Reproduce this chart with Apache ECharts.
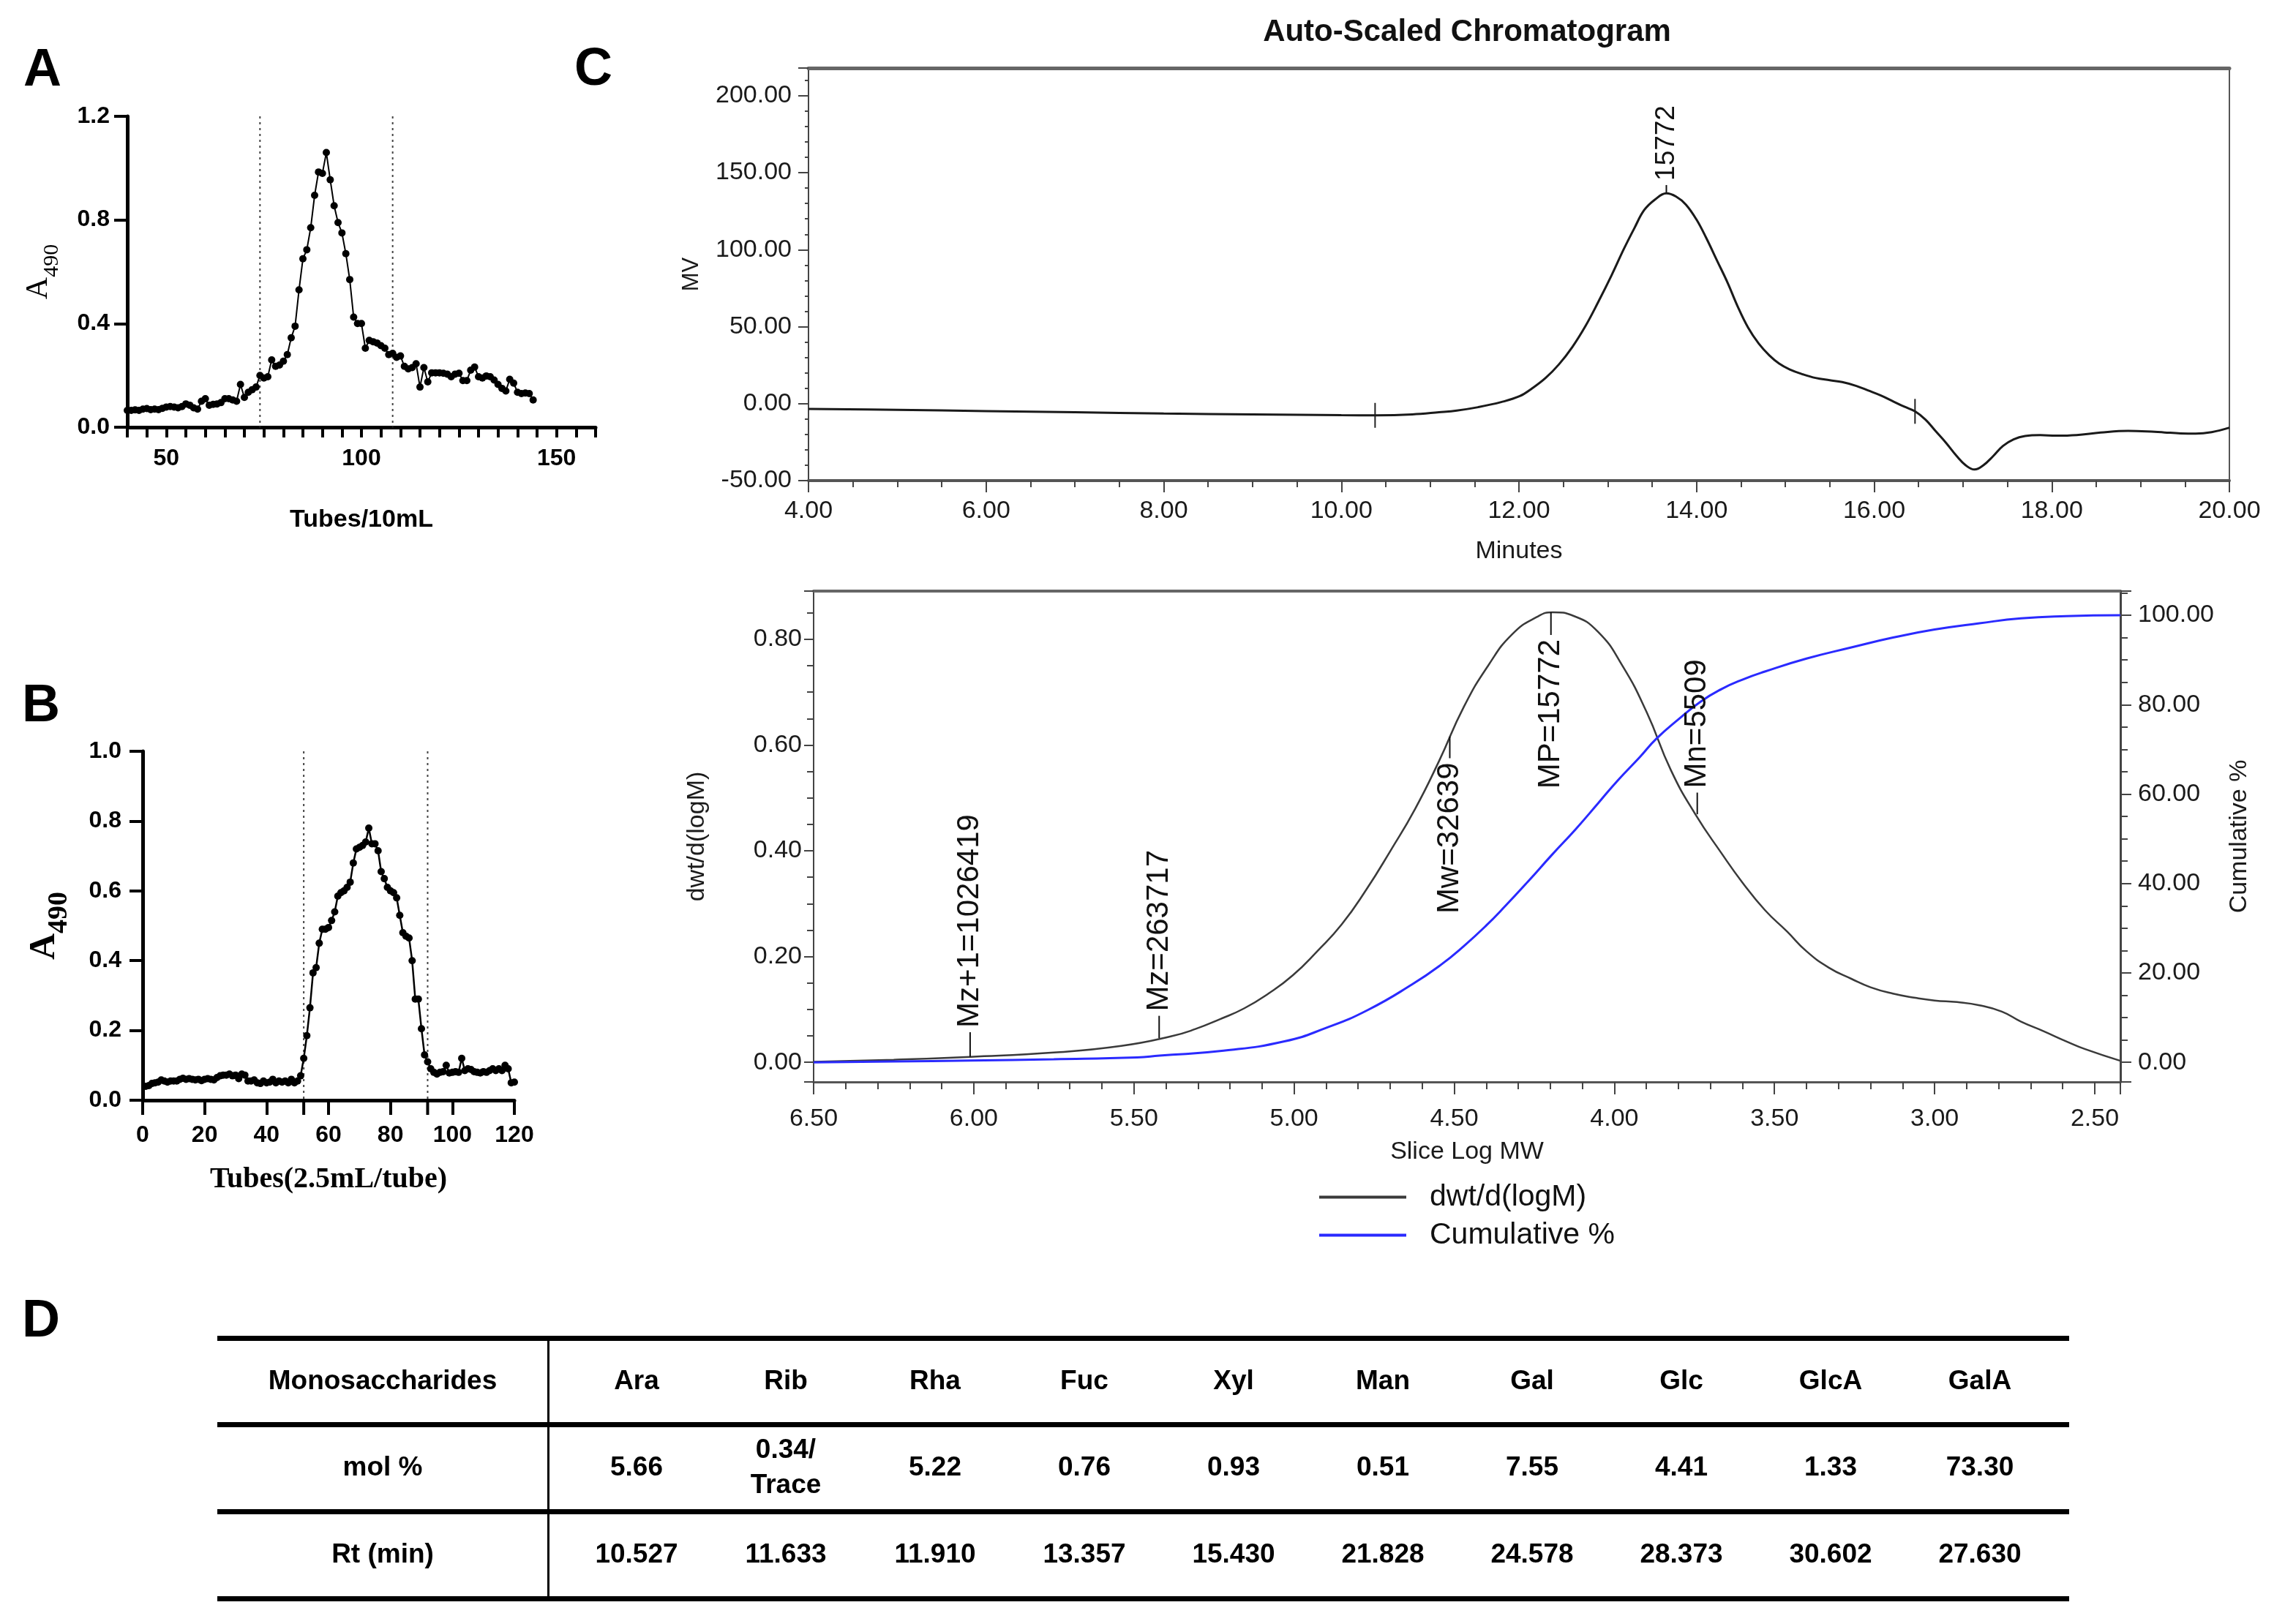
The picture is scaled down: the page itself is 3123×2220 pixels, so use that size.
<!DOCTYPE html>
<html><head><meta charset="utf-8">
<script src="https://cdn.jsdelivr.net/npm/echarts@6/dist/echarts.min.js"></script>
<style>html,body{margin:0;padding:0;background:#fff}#c{width:3123px;height:2220px}</style>
</head><body><div id="c"></div>
<script>
// ---------------- DATA ----------------
// Panel A: tubes (10 mL) starting at tube 40
const tubeStartA = 40;
const valuesA = [0.065,0.065,0.067,0.065,0.070,0.072,0.068,0.070,0.068,0.073,
  0.078,0.080,0.078,0.075,0.080,0.090,0.085,0.075,0.070,0.100,
  0.110,0.085,0.088,0.090,0.095,0.110,0.110,0.105,0.100,0.165,
  0.115,0.135,0.145,0.155,0.200,0.190,0.195,0.260,0.235,0.240,
  0.255,0.280,0.345,0.390,0.530,0.650,0.685,0.770,0.895,0.985,
  0.980,1.060,0.955,0.855,0.790,0.750,0.670,0.570,0.425,0.400,
  0.400,0.305,0.335,0.330,0.325,0.315,0.305,0.280,0.285,0.270,
  0.275,0.235,0.225,0.230,0.245,0.155,0.230,0.175,0.210,0.210,
  0.210,0.208,0.205,0.195,0.205,0.208,0.180,0.180,0.220,0.232,
  0.195,0.190,0.198,0.195,0.182,0.165,0.150,0.140,0.185,0.170,
  0.135,0.130,0.132,0.130,0.105];
const cutA = [74, 108];

// Panel B: tubes (2.5 mL) 1..120
const valuesB = [0.040,0.042,0.048,0.050,0.052,0.058,0.055,0.052,0.055,0.055,
  0.055,0.060,0.063,0.060,0.062,0.060,0.058,0.060,0.056,0.060,
  0.062,0.060,0.058,0.065,0.070,0.072,0.072,0.075,0.070,0.072,
  0.062,0.075,0.072,0.055,0.055,0.058,0.050,0.048,0.055,0.050,
  0.052,0.060,0.050,0.055,0.052,0.055,0.050,0.060,0.050,0.055,
  0.070,0.120,0.185,0.265,0.365,0.380,0.450,0.490,0.490,0.495,
  0.515,0.540,0.585,0.595,0.600,0.610,0.625,0.680,0.720,0.725,
  0.730,0.740,0.780,0.735,0.735,0.715,0.655,0.635,0.610,0.600,
  0.595,0.580,0.530,0.480,0.470,0.465,0.400,0.290,0.290,0.205,
  0.130,0.110,0.090,0.080,0.075,0.080,0.082,0.100,0.078,0.080,
  0.082,0.080,0.120,0.085,0.090,0.088,0.082,0.080,0.078,0.082,
  0.080,0.085,0.090,0.085,0.090,0.085,0.100,0.090,0.050,0.052];
const cutB = [52, 92];

// Panel C (top): chromatogram
const minutesC = [4.0,5.0,6.0,7.0,8.0,9.0,10.0,10.4,10.8,11.1,11.3,11.54,11.8,12.01,12.15,12.30,12.45,12.60,12.75,12.89,
  13.04,13.18,13.30,13.41,13.53,13.66,13.77,13.88,14.00,14.11,14.23,14.35,14.46,14.58,14.70,14.82,14.93,15.05,15.20,15.34,
  15.50,15.64,15.80,15.93,16.08,16.22,16.34,16.46,16.58,16.69,16.81,16.93,17.03,17.13,17.23,17.34,17.45,17.57,17.70,17.87,
  18.05,18.28,18.55,18.86,19.07,19.27,19.45,19.62,19.80,20.00];
const mvC = [-3.4,-4.0,-4.8,-5.6,-6.4,-7.0,-7.5,-7.6,-7.0,-5.6,-4.5,-2.3,1.0,4.9,10,16.7,25.5,36.7,50.5,65.7,
  83,100.3,114,125.7,132.5,136.6,134.5,129.3,119.5,107.5,93,78.5,63.5,49.4,39,31.3,26,22.2,19,16.7,
  15.2,14.0,11.5,8.6,5.2,1.3,-2,-5.0,-10.5,-17.7,-25.5,-34.1,-40,-42.8,-40,-34.1,-27.5,-23.2,-21,-20.4,
  -20.8,-20.4,-18.8,-17.7,-18.0,-18.7,-19.3,-19.5,-18.5,-15.6];
const sliceMarksX = [10.38, 16.46];
const sliceMarksY = [-7.6, -5.0];
const peakLabel = ['15772'];
const peakX = [13.66], peakY = [136.6], peakTickEnd = [142];

// Panel C (bottom): MW distribution
const logDwt = [6.50,6.25,6.01,5.75,5.54,5.385,5.308,5.232,5.156,5.08,5.004,4.927,4.851,4.775,4.699,4.623,4.547,4.47,4.394,
  4.318,4.242,4.192,4.127,4.051,3.975,3.899,3.823,3.747,3.665,3.60,3.53,3.46,3.40,3.33,3.26,3.20,3.13,3.06,3.00,
  2.93,2.86,2.79,2.73,2.66,2.59,2.53,2.42];
const dwt = [0.001,0.005,0.0105,0.0185,0.031,0.049,0.063,0.0815,0.102,0.130,0.1645,0.2105,0.261,0.326,0.400,0.478,0.570,0.672,0.750,
  0.810,0.842,0.851,0.844,0.814,0.750,0.662,0.552,0.469,0.395,0.340,0.288,0.247,0.210,0.179,0.158,0.142,0.130,0.122,0.117,
  0.114,0.108,0.096,0.077,0.059,0.040,0.025,0.003];
const logCum = [6.50,6.25,6.01,5.75,5.49,5.42,5.22,5.03,4.90,4.77,4.63,4.54,4.47,4.40,4.34,4.27,4.195,4.12,4.05,3.99,
  3.92,3.87,3.80,3.73,3.665,3.60,3.53,3.40,3.26,3.13,3.00,2.86,2.73,2.59,2.42];
const cumPct = [0,0.2,0.4,0.7,1.1,1.5,2.6,4.7,7.7,11.7,17.5,21.9,26.0,30.6,35.0,40.4,46.4,52.2,58.0,63.0,
  68.3,72.3,76.7,80.7,83.5,85.6,87.4,90.3,92.8,95.0,96.8,98.2,99.3,99.8,100];
const markNames = ['Mz+1','Mz','Mw','MP','Mn'];
const markValues = [1026419, 263717, 32639, 15772, 5509];
const markCurveY = [0.0105, 0.046, 0.616, 0.851, 0.469];
const markTickEnd = [0.057, 0.088, 0.575, 0.808, 0.510];

// Panel D: table
const rowHeads = ['Monosaccharides', 'mol %', 'Rt (min)'];
const sugars = ['Ara','Rib','Rha','Fuc','Xyl','Man','Gal','Glc','GlcA','GalA'];
const molPct = ['5.66','0.34/\nTrace','5.22','0.76','0.93','0.51','7.55','4.41','1.33','73.30'];
const rtMin = ['10.527','11.633','11.910','13.357','15.430','21.828','24.578','28.373','30.602','27.630'];

// ---------------- HELPERS ----------------
const SANS = '"Liberation Sans", Arial, Helvetica, sans-serif';
const SERIF = '"Liberation Serif", "Times New Roman", serif';
function stepFmt(step, digits) {
  return function (v) {
    const q = v / step;
    if (Math.abs(q - Math.round(q)) > 1e-6) return '';
    const r = Math.round(q) * step;
    return (Math.abs(r) < 1e-9 ? 0 : r).toFixed(digits);
  };
}
function cutRender(yTop, withTick) {
  return function (params, api) {
    const x = api.value(0);
    const a = api.coord([x, yTop]), b = api.coord([x, 0]);
    const ch = [{type:'line', shape:{x1:a[0], y1:a[1], x2:b[0], y2:b[1]}, style:{stroke:'#444', lineWidth:2, lineDash:[3,5]}}];
    if (withTick) ch.push({type:'line', shape:{x1:b[0], y1:b[1], x2:b[0], y2:b[1] + 20}, style:{stroke:'#000', lineWidth:4}});
    return {type:'group', children: ch};
  };
}
function annRender(labels, fontSize) {
  return function (params, api) {
    const x = api.value(0);
    const p0 = api.coord([x, api.value(1)]);
    const p1 = api.coord([x, api.value(2)]);
    const up = p1[1] < p0[1];
    const al = up ? 'left' : 'right';
    return {type:'group', children:[
      {type:'line', shape:{x1:p0[0], y1:p0[1], x2:p1[0], y2:p1[1]}, style:{stroke:'#111', lineWidth:2}},
      {type:'text', x:p1[0], y:p1[1] + (up ? -6 : 6), rotation:Math.PI/2,
        style:{text:labels[params.dataIndex], font:fontSize + 'px ' + SANS, fill:'#111',
          align:al, textAlign:al, verticalAlign:'middle', textVerticalAlign:'middle'}}
    ]};
  };
}
function textCell(texts) {
  return function (params, api) {
    const p = api.coord([api.value(0), api.value(1)]);
    return {type:'text', x:p[0], y:p[1], style:{text:texts[params.dataIndex], font:'bold 37px ' + SANS, fill:'#000',
      align:'center', textAlign:'center', verticalAlign:'middle', textVerticalAlign:'middle', lineHeight:48}};
  };
}

// ---------------- BUILD ----------------
const dataA = valuesA.map((v, i) => [tubeStartA + i, v]);
const dataB = valuesB.map((v, i) => [i + 1, v]);
const dataTop = minutesC.map((m, i) => [m, mvC[i]]);
const dataDwt = logDwt.map((m, i) => [m, dwt[i]]);
const dataCum = logCum.map((m, i) => [m, cumPct[i]]);
const annData = markValues.map((v, i) => [Math.log10(v), markCurveY[i], markTickEnd[i]]);
const annLabels = markNames.map((n, i) => n + '=' + markValues[i]);
const headerCells = rowHeads.map((t, r) => [0, r]);
const rows = [sugars, molPct, rtMin];
const dataCells = [], dataTexts = [];
rows.forEach((row, r) => row.forEach((t, c) => { dataCells.push([c, r]); dataTexts.push(t); }));

const boldLbl = {color:'#000', fontFamily:SANS, fontWeight:'bold', fontSize:32};
const blackLine = {show:true, onZero:false, lineStyle:{color:'#000', width:5}};
const cLbl = {color:'#1a1a1a', fontFamily:SANS, fontSize:34};
const cName = {color:'#1a1a1a', fontFamily:SANS, fontSize:34};
const gTick = (len) => ({show:true, length:len, lineStyle:{color:'#444', width:2}});
const none = {show:false};

const grids = [
  {left:174, top:159, width:640, height:425},
  {left:195, top:1027, width:508, height:477},
  {left:1105, top:93, width:1942, height:564, show:true, borderColor:'#555', borderWidth:2},
  {left:1112, top:808, width:1786, height:671, show:true, borderColor:'#555', borderWidth:2},
  {left:297, top:1829, width:2531, height:356},
  {left:297, top:1829, width:452, height:356},
  {left:768, top:1829, width:2040, height:356}
];
grids.forEach(g => { g.containLabel = false; g.outerBoundsMode = 'none'; });

const option = {
  animation:false,
  backgroundColor:'#fff',
  grid: grids,
  graphic: [
    {type:'text', x:58, y:97, style:{text:'A', font:'bold 72px ' + SANS, fill:'#000', align:'center', textAlign:'center', verticalAlign:'middle', textVerticalAlign:'middle'}},
    {type:'text', x:56, y:966, style:{text:'B', font:'bold 72px ' + SANS, fill:'#000', align:'center', textAlign:'center', verticalAlign:'middle', textVerticalAlign:'middle'}},
    {type:'text', x:811, y:96, style:{text:'C', font:'bold 72px ' + SANS, fill:'#000', align:'center', textAlign:'center', verticalAlign:'middle', textVerticalAlign:'middle'}},
    {type:'text', x:56, y:1807, style:{text:'D', font:'bold 72px ' + SANS, fill:'#000', align:'center', textAlign:'center', verticalAlign:'middle', textVerticalAlign:'middle'}},
    {type:'text', x:2005, y:44, style:{text:'Auto-Scaled Chromatogram', font:'bold 42px ' + SANS, fill:'#111', align:'center', textAlign:'center', verticalAlign:'middle', textVerticalAlign:'middle'}}
  ],
  legend: {
    orient:'vertical', left:1803, top:1616, itemWidth:119, itemHeight:4, itemGap:11, icon:'rect',
    data:['dwt/d(logM)', 'Cumulative %'], selectedMode:false, padding:0,
    textStyle:{fontFamily:SANS, fontSize:41, color:'#111', padding:[0,0,0,27]}
  },
  xAxis: [
    {gridIndex:0, type:'value', min:40, max:160, interval:5, position:'bottom',
      axisLine:blackLine, axisTick:{show:true, length:14, lineStyle:{color:'#000', width:4}}, splitLine:none,
      axisLabel:Object.assign({margin:27, formatter:stepFmt(50,0)}, boldLbl),
      name:'Tubes/10mL', nameLocation:'middle', nameGap:110,
      nameTextStyle:{fontFamily:SANS, fontWeight:'bold', fontSize:34, color:'#000'}},
    {gridIndex:1, type:'value', min:0, max:120, interval:20, position:'bottom',
      axisLine:blackLine, axisTick:{show:true, length:20, lineStyle:{color:'#000', width:4}}, splitLine:none,
      axisLabel:Object.assign({margin:32, formatter:stepFmt(20,0)}, boldLbl),
      name:'Tubes(2.5mL/tube)', nameLocation:'middle', nameGap:89,
      nameTextStyle:{fontFamily:SERIF, fontWeight:'bold', fontSize:40, color:'#000'}},
    {gridIndex:2, type:'value', min:4, max:20, interval:0.5, position:'bottom',
      axisLine:{show:true, onZero:false, lineStyle:{color:'#555', width:4}}, axisTick:gTick(9), axisLabel:none, splitLine:none},
    {gridIndex:2, type:'value', min:4, max:20, interval:2, position:'bottom',
      axisLine:{show:false, onZero:false}, axisTick:gTick(16), splitLine:none,
      axisLabel:Object.assign({margin:25, formatter:stepFmt(2,2)}, cLbl),
      name:'Minutes', nameLocation:'middle', nameGap:80, nameTextStyle:cName},
    {gridIndex:2, type:'value', min:4, max:20, position:'top',
      axisLine:{show:true, onZero:false, lineStyle:{color:'#666', width:5}}, axisTick:none, axisLabel:none, splitLine:none},
    {gridIndex:3, type:'value', inverse:true, min:2.42, max:6.5, minInterval:0.1, maxInterval:0.1, position:'bottom',
      axisLine:{show:true, onZero:false, lineStyle:{color:'#555', width:3}}, axisTick:gTick(10), axisLabel:none, splitLine:none},
    {gridIndex:3, type:'value', inverse:true, min:2.42, max:6.5, minInterval:0.5, maxInterval:0.5, position:'bottom',
      axisLine:{show:false, onZero:false}, axisTick:gTick(17), splitLine:none,
      axisLabel:Object.assign({margin:34, formatter:stepFmt(0.5,2)}, cLbl),
      name:'Slice Log MW', nameLocation:'middle', nameGap:79, nameTextStyle:cName},
    {gridIndex:3, type:'value', inverse:true, min:2.42, max:6.5, position:'top',
      axisLine:{show:true, onZero:false, lineStyle:{color:'#666', width:4}}, axisTick:none, axisLabel:none, splitLine:none},
    {gridIndex:4, type:'value', min:0, max:1, show:false},
    {gridIndex:5, type:'category', data:['h'], show:false},
    {gridIndex:6, type:'category', data:sugars, show:false}
  ],
  yAxis: [
    {gridIndex:0, type:'value', min:0, max:1.2, interval:0.4,
      axisLine:blackLine, axisTick:{show:true, length:18, lineStyle:{color:'#000', width:4}}, splitLine:none,
      axisLabel:Object.assign({margin:24, formatter:stepFmt(0.4,1)}, boldLbl),
      name:'{a|A}{b|490}', nameLocation:'middle', nameRotate:90, nameGap:88,
      nameTextStyle:{rich:{a:{fontFamily:SERIF, fontSize:42, color:'#000', verticalAlign:'top', padding:[0,0,12,0]},
                           b:{fontFamily:SERIF, fontSize:30, color:'#000', verticalAlign:'bottom'}}}},
    {gridIndex:1, type:'value', min:0, max:1, interval:0.2,
      axisLine:blackLine, axisTick:{show:true, length:18, lineStyle:{color:'#000', width:4}}, splitLine:none,
      axisLabel:Object.assign({margin:29, formatter:stepFmt(0.2,1)}, boldLbl),
      name:'{a|A}{b|490}', nameLocation:'middle', nameRotate:90, nameGap:95,
      nameTextStyle:{rich:{a:{fontFamily:SERIF, fontWeight:'bold', fontSize:50, color:'#000', verticalAlign:'top', padding:[0,0,14,0]},
                           b:{fontFamily:SERIF, fontWeight:'bold', fontSize:38, color:'#000', verticalAlign:'bottom'}}}},
    {gridIndex:2, type:'value', min:-50, max:218, interval:10, position:'left',
      axisLine:{show:true, onZero:false, lineStyle:{color:'#444', width:2}}, axisTick:gTick(5), axisLabel:none, splitLine:none},
    {gridIndex:2, type:'value', min:-50, max:218, interval:50, position:'left',
      axisLine:{show:false, onZero:false}, axisTick:gTick(14), splitLine:none,
      axisLabel:Object.assign({margin:23, formatter:stepFmt(50,2)}, cLbl),
      name:'MV', nameLocation:'middle', nameRotate:90, nameGap:144, nameTextStyle:{color:'#1a1a1a', fontFamily:SANS, fontSize:31}},
    {gridIndex:3, type:'value', min:-0.037, max:0.891, minInterval:0.05, maxInterval:0.05, position:'left',
      axisLine:{show:true, onZero:false, lineStyle:{color:'#444', width:2}}, axisTick:gTick(9), axisLabel:none, splitLine:none},
    {gridIndex:3, type:'value', min:-0.037, max:0.891, minInterval:0.2, maxInterval:0.2, position:'left',
      axisLine:{show:false, onZero:false}, axisTick:gTick(13), splitLine:none,
      axisLabel:Object.assign({margin:16, formatter:stepFmt(0.2,2)}, cLbl),
      name:'dwt/d(logM)', nameLocation:'middle', nameRotate:90, nameGap:142, nameTextStyle:cName},
    {gridIndex:3, type:'value', min:-4.38, max:105.4, minInterval:5, maxInterval:5, position:'right',
      axisLine:{show:true, onZero:false, lineStyle:{color:'#444', width:3}}, axisTick:gTick(10), axisLabel:none, splitLine:none},
    {gridIndex:3, type:'value', min:-4.38, max:105.4, minInterval:20, maxInterval:20, position:'right',
      axisLine:{show:false, onZero:false}, axisTick:gTick(15), splitLine:none,
      axisLabel:Object.assign({margin:24, formatter:stepFmt(20,2)}, cLbl),
      name:'Cumulative %', nameLocation:'middle', nameRotate:90, nameGap:146, nameTextStyle:cName},
    {gridIndex:4, type:'value', min:0, max:3, interval:1, axisLine:none, axisTick:none, axisLabel:none,
      splitLine:{show:true, lineStyle:{color:'#000', width:7}}},
    {gridIndex:5, type:'category', data:rowHeads, inverse:true, position:'right',
      axisLine:{show:true, lineStyle:{color:'#000', width:3}}, axisTick:none, axisLabel:none, splitLine:none},
    {gridIndex:6, type:'category', data:rowHeads, inverse:true, show:false}
  ],
  series: [
    {type:'line', xAxisIndex:0, yAxisIndex:0, data:dataA, symbol:'circle', symbolSize:10,
      itemStyle:{color:'#000'}, lineStyle:{color:'#000', width:2}, z:4},
    {type:'custom', xAxisIndex:0, yAxisIndex:0, data:cutA.map(x => [x, 0]), renderItem:cutRender(1.2, false), z:2},
    {type:'line', xAxisIndex:1, yAxisIndex:1, data:dataB, symbol:'circle', symbolSize:10,
      itemStyle:{color:'#000'}, lineStyle:{color:'#000', width:2.5}, z:4},
    {type:'custom', xAxisIndex:1, yAxisIndex:1, data:cutB.map(x => [x, 0]), renderItem:cutRender(1.0, true), z:2},
    {type:'line', xAxisIndex:3, yAxisIndex:3, data:dataTop, symbol:'none', smooth:0.4,
      lineStyle:{color:'#1a1a1a', width:3}, itemStyle:{color:'#1a1a1a'}},
    {type:'custom', xAxisIndex:3, yAxisIndex:3, data:sliceMarksX.map((x, i) => [x, sliceMarksY[i]]),
      renderItem:function (params, api) {
        const p = api.coord([api.value(0), api.value(1)]);
        return {type:'line', shape:{x1:p[0], y1:p[1] - 17, x2:p[0], y2:p[1] + 17}, style:{stroke:'#222', lineWidth:2}};
      }},
    {type:'custom', xAxisIndex:3, yAxisIndex:3, data:peakX.map((x, i) => [x, peakY[i], peakTickEnd[i]]),
      renderItem:annRender(peakLabel, 37)},
    {type:'line', name:'dwt/d(logM)', xAxisIndex:6, yAxisIndex:5, data:dataDwt, symbol:'none', smooth:0.5,
      color:'#3a3a3a', lineStyle:{color:'#3a3a3a', width:2.5}, itemStyle:{color:'#3a3a3a'}},
    {type:'line', name:'Cumulative %', xAxisIndex:6, yAxisIndex:7, data:dataCum, symbol:'none', smooth:0.5,
      color:'#2a2aff', lineStyle:{color:'#2a2aff', width:3}, itemStyle:{color:'#2a2aff'}},
    {type:'custom', xAxisIndex:6, yAxisIndex:5, data:annData, renderItem:annRender(annLabels, 42), z:5},
    {type:'custom', xAxisIndex:9, yAxisIndex:9, data:headerCells, renderItem:textCell(rowHeads)},
    {type:'custom', xAxisIndex:10, yAxisIndex:10, data:dataCells, renderItem:textCell(dataTexts)}
  ]
};
const chart = echarts.init(document.getElementById('c'), null, {renderer:'canvas', width:3123, height:2220});
chart.setOption(option);
</script>
</body></html>
